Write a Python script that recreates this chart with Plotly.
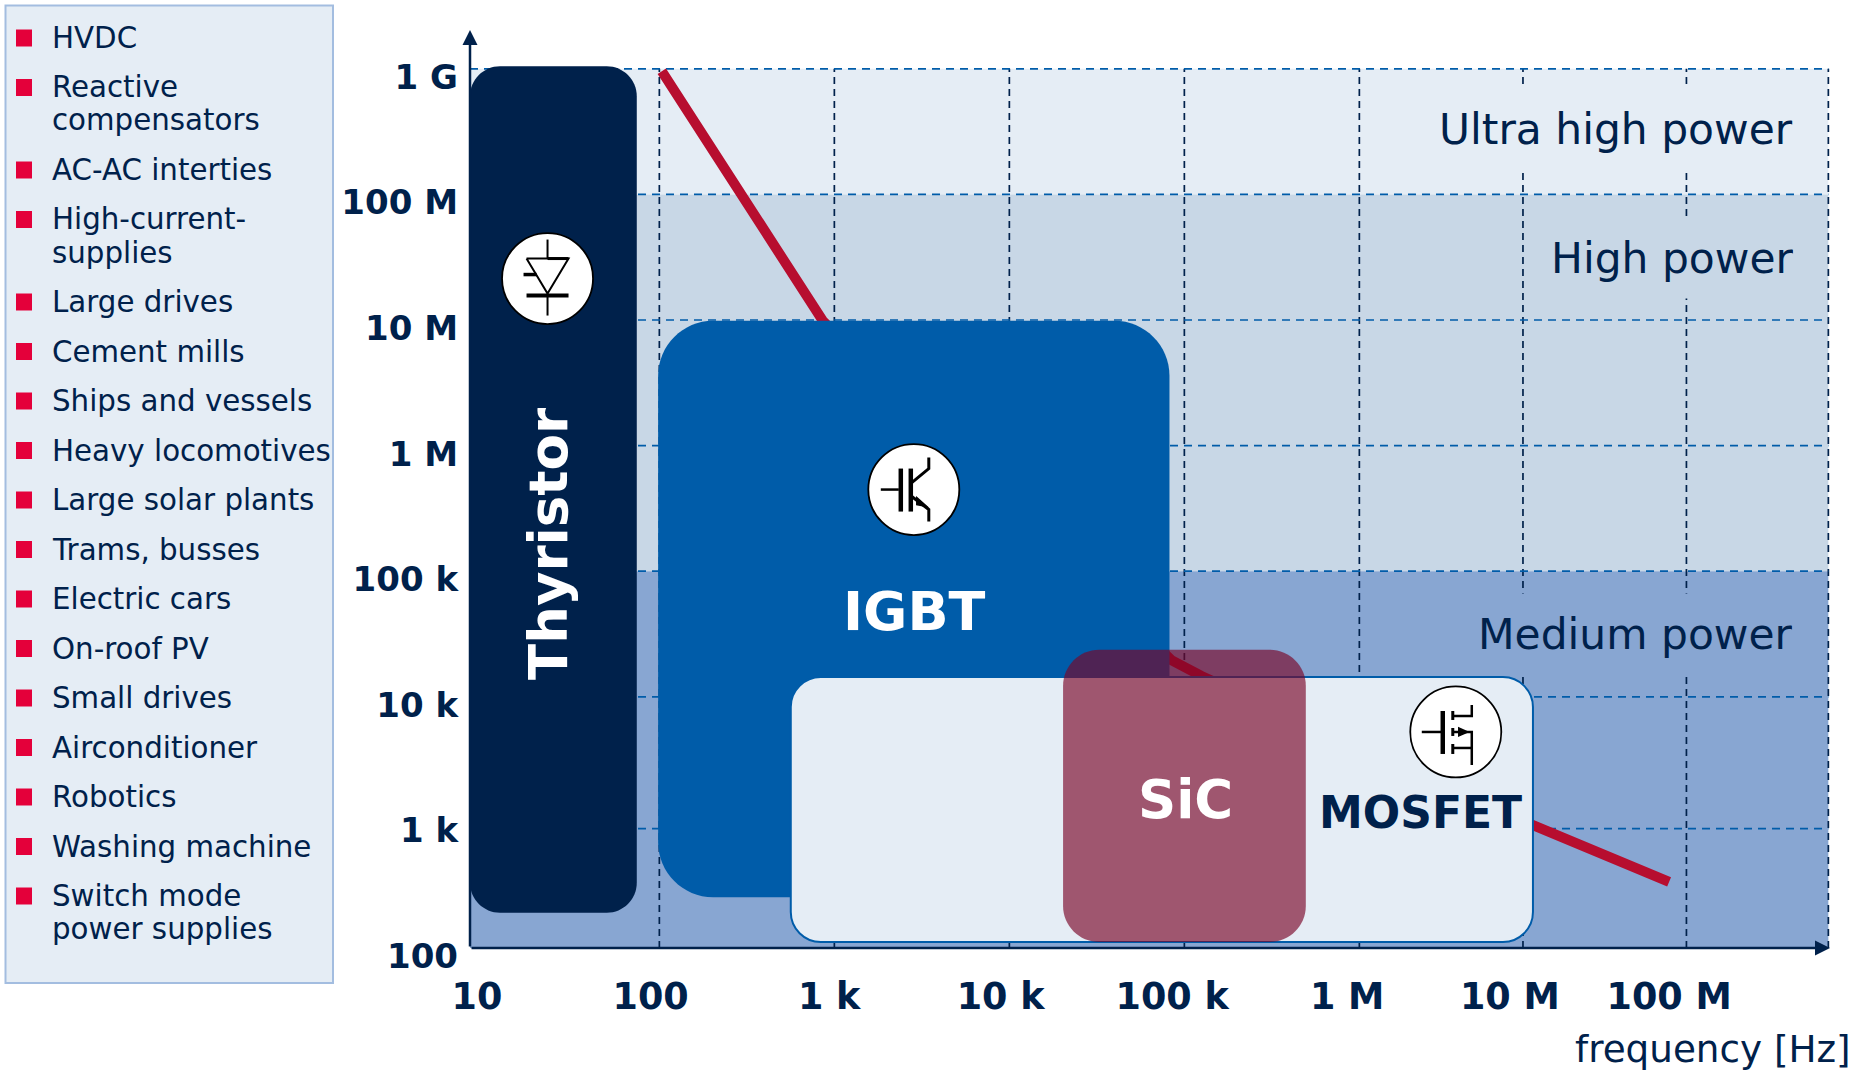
import plotly.graph_objects as go

FONT = "DejaVu Sans"
NAVY = "#00214B"
BLUE = "#005CA9"
RED = "#E4003A"
LINE_RED = "#B70E2F"
PALE = "#E5EDF5"
MID = "#C8D7E6"
DEEP = "#88A6D2"

# Power / frequency chart in log10 units (log10 of W and of Hz)
application_lines = [
    "HVDC", "Reactive\ncompensators", "AC-AC interties", "High-current-\nsupplies",
    "Large drives", "Cement mills", "Ships and vessels", "Heavy locomotives",
    "Large solar plants", "Trams, busses", "Electric cars", "On-roof PV",
    "Small drives", "Airconditioner", "Robotics", "Washing machine",
    "Switch mode\npower supplies",
]

y_tick_text = ["1 G", "100 M", "10 M", "1 M", "100 k", "10 k", "1 k", "100"]
y_tick_vals = [8.935, 7.935, 6.935, 5.935, 4.935, 3.935, 2.935, 1.935]
x_tick_text = ["10", "100", "1 k", "10 k", "100 k", "1 M", "10 M", "100 M"]
x_tick_vals = [0.958, 1.95, 2.97, 3.95, 4.93, 5.93, 6.86, 7.77]

x_grid = [2, 3, 4, 5, 6, 6.935, 7.869, 8.68]
y_grid = [9, 8, 7, 6, 5, 4, 2.95, 2]

# band name, lower edge, upper edge, colour
band_names = ["Ultra high power", "High power", "Medium power"]
band_low = [8, 5, 2]
band_high = [9, 8, 5]
band_colors = [PALE, MID, DEEP]

# characteristic line of the device families
limit_freq = [2.014, 2.934, 4.929, 5.098, 6.992, 7.77]
limit_power = [8.98, 6.994, 4.289, 4.166, 2.979, 2.526]

# device regions: x0, x1, y0, y1
thyristor_box = (0.918, 1.871, 2.28, 9.02)
igbt_box = (1.993, 4.915, 2.404, 6.994)
mosfet_box = (2.751, 6.992, 2.047, 4.157)
sic_box = (4.307, 5.694, 2.047, 4.374)

# plot frame in page pixels
W, H = 1856, 1070
LEFT, RIGHT, TOP, BOTTOM = 470, 1840, 30, 960
PX_X = 175.0
PX_Y = 125.6
X_AT_LEFT = 0.918
X_AT_RIGHT = X_AT_LEFT + (RIGHT - LEFT) / PX_X
Y_AT_BOTTOM = 2 - (BOTTOM - 948) / PX_Y
Y_AT_TOP = Y_AT_BOTTOM + (BOTTOM - TOP) / PX_Y


def paper_x(px):
    return (px - LEFT) / (RIGHT - LEFT)


def paper_y(px):
    return (BOTTOM - px) / (BOTTOM - TOP)


def rounded(box, radius_px):
    """Path of a rounded rectangle given in axis units."""
    x0, x1, y0, y1 = box
    rx, ry = radius_px / PX_X, radius_px / PX_Y
    kx, ky = rx * 0.45, ry * 0.45
    return (
        f"M {x0 + rx} {y0} L {x1 - rx} {y0} C {x1 - kx} {y0} {x1} {y0 + ky} {x1} {y0 + ry} "
        f"L {x1} {y1 - ry} C {x1} {y1 - ky} {x1 - kx} {y1} {x1 - rx} {y1} "
        f"L {x0 + rx} {y1} C {x0 + kx} {y1} {x0} {y1 - ky} {x0} {y1 - ry} "
        f"L {x0} {y0 + ry} C {x0} {y0 + ky} {x0 + kx} {y0} {x0 + rx} {y0} Z"
    )


shapes = []

# power bands
for low, high, colour in zip(band_low, band_high, band_colors):
    shapes.append(dict(type="rect", layer="below", xref="x", yref="y", x0=X_AT_LEFT, x1=8.68,
                       y0=low, y1=high, fillcolor=colour, line_width=0))

# dashed grid
for v in x_grid:
    shapes.append(dict(type="line", layer="below", xref="x", yref="y", x0=v, x1=v, y0=2, y1=9,
                       line=dict(color=NAVY, width=1.7, dash="7px,5px")))
for v in y_grid[:-1]:
    shapes.append(dict(type="line", layer="below", xref="x", yref="y", x0=X_AT_LEFT, x1=8.68, y0=v, y1=v,
                       line=dict(color=BLUE, width=1.7, dash="8px,6px")))

# device regions sit above the characteristic line
shapes.append(dict(type="path", layer="above", xref="x", yref="y", path=rounded(igbt_box, 55),
                   fillcolor=BLUE, line_width=0))
shapes.append(dict(type="path", layer="above", xref="x", yref="y", path=rounded(mosfet_box, 30),
                   fillcolor=PALE, line=dict(color=BLUE, width=2)))
shapes.append(dict(type="path", layer="above", xref="x", yref="y", path=rounded(sic_box, 36),
                   fillcolor="rgba(121,5,38,0.65)", line_width=0))
shapes.append(dict(type="path", layer="above", xref="x", yref="y", path=rounded(thyristor_box, 30),
                   fillcolor=NAVY, line_width=0))

# circuit symbols, drawn in pixels around an anchor point (y grows downwards here)
thyristor_symbol = [
    ([(0, -39), (0, -20)], 2, False),
    ([(-21, -20), (21, -20), (0, 15), (-21, -20)], 2, False),
    ([(0, -20), (21, -20)], 3, False),
    ([(-21, 17), (21, 17)], 4, False),
    ([(0, 15), (0, 37)], 2, False),
    ([(-24, -4), (-11, -4)], 3.5, False),
]
igbt_symbol = [
    ([(-33, 0), (-15, 0)], 2.5, False),
    ([(-13, -21), (-13, 22)], 4.5, False),
    ([(-3, -21), (-3, 22)], 4.5, False),
    ([(-2, -7), (15, -21), (15, -32)], 3, False),
    ([(-2, 7), (15, 20), (15, 32)], 3, False),
    ([(3, 8), (13, 17), (3, 15)], 1.5, True),
]
mosfet_symbol = [
    ([(-34, 0), (-14, 0)], 2.5, False),
    ([(-13, -21), (-13, 22)], 4.5, False),
    ([(-3, -21), (-3, -12)], 3, False),
    ([(-3, -4), (-3, 4)], 3, False),
    ([(-3, 12), (-3, 22)], 3, False),
    ([(-3, -16), (16, -16), (16, -27)], 2.5, False),
    ([(-3, 0), (16, 0), (16, 33)], 2.5, False),
    ([(-3, 16), (16, 16)], 2.5, False),
    ([(3, -4), (12, 0), (3, 4)], 1.5, True),
]
symbols = [
    (1.361, 7.33, thyristor_symbol),
    (3.454, 5.65, igbt_symbol),
    (6.551, 3.72, mosfet_symbol),
]
for ax, ay, strokes in symbols:
    shapes.append(dict(type="circle", layer="above", xref="x", yref="y", xsizemode="pixel", ysizemode="pixel",
                       xanchor=ax, yanchor=ay, x0=-45.5, x1=45.5, y0=-45.5, y1=45.5,
                       fillcolor="white", line=dict(color="black", width=1.8)))
    for pts, width, filled in strokes:
        path = "M " + " L ".join(f"{px} {-py}" for px, py in pts) + (" Z" if filled else "")
        shapes.append(dict(type="path", layer="above", xref="x", yref="y", xsizemode="pixel", ysizemode="pixel",
                           xanchor=ax, yanchor=ay, path=path,
                           fillcolor="black" if filled else "rgba(0,0,0,0)",
                           line=dict(color="black", width=width)))

# application panel
shapes.append(dict(type="rect", layer="above", xref="paper", yref="paper",
                   x0=paper_x(5.5), x1=paper_x(333), y0=paper_y(5.5), y1=paper_y(983),
                   fillcolor=PALE, line=dict(color="#A3BDE0", width=2)))

annotations = []
cursor = 38
for item in application_lines:
    shapes.append(dict(type="rect", layer="above", xref="paper", yref="paper",
                       x0=paper_x(16), x1=paper_x(32), y0=paper_y(cursor - 8.5), y1=paper_y(cursor + 8.5),
                       fillcolor=RED, line_width=0))
    for line in item.split("\n"):
        annotations.append(dict(x=paper_x(49.6), y=paper_y(cursor), xref="paper", yref="paper", text=line,
                                showarrow=False, xanchor="left", yanchor="middle",
                                font=dict(family=FONT, size=29.3, color=NAVY)))
        cursor += 33
    cursor += 16.5

# band names mask the vertical grid behind them
band_label_y = [129, 258, 634]
for name, colour, py in zip(band_names, band_colors, band_label_y):
    annotations.append(dict(x=paper_x(1795), y=paper_y(py), xref="paper", yref="paper", text=name,
                            showarrow=False, xanchor="right", yanchor="middle", height=78, bgcolor=colour,
                            font=dict(family=FONT, size=42.4, color=NAVY)))

# device names
device_labels = [
    ("Thyristor", 548, 544, "white", 53, -90),
    ("IGBT", 914, 612, "white", 54, 0),
    ("SiC", 1185, 799, "white", 53, 0),
    ("MOSFET", 1420, 812, NAVY, 44, 0),
]
for text, px, py, colour, size, angle in device_labels:
    annotations.append(dict(x=paper_x(px), y=paper_y(py), xref="paper", yref="paper", text=f"<b>{text}</b>",
                            showarrow=False, textangle=angle, xanchor="center", yanchor="middle",
                            font=dict(family=FONT, size=size, color=colour)))

annotations.append(dict(x=paper_x(1853), y=paper_y(1048.5), xref="paper", yref="paper", text="frequency [Hz]",
                        showarrow=False, xanchor="right", yanchor="middle",
                        font=dict(family=FONT, size=37.3, color=NAVY)))

# axis arrows
annotations.append(dict(x=paper_x(470), y=paper_y(30), xref="paper", yref="paper", axref="pixel", ayref="pixel",
                        ax=0, ay=918, showarrow=True, arrowhead=2, arrowwidth=2.5, arrowsize=1.2,
                        arrowcolor=NAVY, text=""))
annotations.append(dict(x=paper_x(1830), y=paper_y(948), xref="paper", yref="paper", axref="pixel", ayref="pixel",
                        ax=-1360, ay=0, showarrow=True, arrowhead=2, arrowwidth=2.5, arrowsize=1.2,
                        arrowcolor=NAVY, text=""))

fig = go.Figure()
fig.add_trace(go.Scatter(x=limit_freq, y=limit_power, mode="lines", hoverinfo="skip",
                         line=dict(color=LINE_RED, width=10)))

fig.update_layout(
    width=W, height=H, showlegend=False,
    paper_bgcolor="white", plot_bgcolor="white",
    margin=dict(l=LEFT, r=W - RIGHT, t=TOP, b=H - BOTTOM, autoexpand=False),
    shapes=shapes, annotations=annotations,
    xaxis=dict(range=[X_AT_LEFT, X_AT_RIGHT], tickmode="array", tickvals=x_tick_vals, ticktext=x_tick_text,
               showgrid=False, zeroline=False, showline=False, ticks="", ticklabelstandoff=11,
               tickfont=dict(family=FONT, weight="bold", size=36.5, color=NAVY), automargin=False, tickangle=0),
    yaxis=dict(range=[Y_AT_BOTTOM, Y_AT_TOP], tickmode="array", tickvals=y_tick_vals, ticktext=y_tick_text,
               showgrid=False, zeroline=False, showline=False, ticks="", ticklabelstandoff=11,
               tickfont=dict(family=FONT, weight="bold", size=34, color=NAVY), automargin=False),
)

fig.write_html("out.html")
